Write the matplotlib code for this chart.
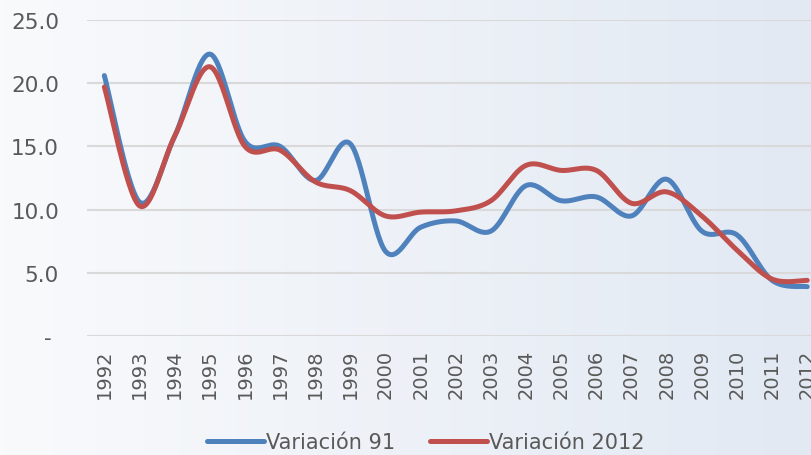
import matplotlib.pyplot as plt
import numpy as np

years = list(range(1992, 2013))
var91 = [20.6, 10.6, 15.8, 22.3, 15.4, 15.0, 12.3, 15.2, 6.7, 8.6, 9.1, 8.3,
         11.9, 10.7, 11.0, 9.5, 12.4, 8.3, 8.0, 4.4, 3.9]
var2012 = [19.7, 10.3, 15.8, 21.3, 15.0, 14.7, 12.2, 11.5, 9.5, 9.8, 9.9, 10.7,
           13.5, 13.1, 13.1, 10.5, 11.4, 9.5, 6.8, 4.5, 4.4]
ytick_vals = [0, 5, 10, 15, 20, 25]
ytick_labels = ['- ', '5.0', '10.0', '15.0', '20.0', '25.0']


def smooth(x, y, n=30):
    # Excel-style smoothed line (cubic bezier, Catmull-Rom control points)
    x = np.asarray(x, float)
    y = np.asarray(y, float)
    px = np.concatenate([[x[0]], x, [x[-1]]])
    py = np.concatenate([[y[0]], y, [y[-1]]])
    xs, ys = [], []
    t = np.linspace(0, 1, n)
    for i in range(len(x) - 1):
        p0 = np.array([px[i + 1], py[i + 1]])
        p3 = np.array([px[i + 2], py[i + 2]])
        p1 = p0 + (np.array([px[i + 2], py[i + 2]]) - np.array([px[i], py[i]])) / 6
        p2 = p3 - (np.array([px[i + 3], py[i + 3]]) - np.array([px[i + 1], py[i + 1]])) / 6
        b = ((1 - t) ** 3)[:, None] * p0 + (3 * (1 - t) ** 2 * t)[:, None] * p1 \
            + (3 * (1 - t) * t ** 2)[:, None] * p2 + (t ** 3)[:, None] * p3
        xs.extend(b[:, 0])
        ys.extend(b[:, 1])
    return np.array(xs), np.array(ys)


fig = plt.figure(figsize=(8.11, 4.56), dpi=100)

# gradient background
bg = fig.add_axes([0, 0, 1, 1], zorder=-10)
grad = np.linspace(0, 1, 256)[None, :]
c0 = np.array([249, 250, 252]) / 255
c1 = np.array([226, 233, 243]) / 255
img = c0[None, None, :] * (1 - grad[..., None]) + c1[None, None, :] * grad[..., None]
bg.imshow(img, aspect='auto', extent=[0, 1, 0, 1])
bg.axis('off')

ax = fig.add_axes([0.107, 0.261, 0.910, 0.693])
ax.patch.set_alpha(0)
idx = np.arange(len(years))
sx, sy = smooth(idx, var91)
ax.plot(sx, sy, color='#4f81bd', lw=3.6, solid_capstyle='round', label='Variación 91')
sx, sy = smooth(idx, var2012)
ax.plot(sx, sy, color='#c0504d', lw=3.6, solid_capstyle='round', label='Variación 2012')

ax.set_xlim(-0.5, len(years) - 0.5)
ax.set_ylim(0, 25)
ax.set_yticks(ytick_vals)
ax.set_yticklabels(ytick_labels)
ax.set_xticks(idx)
ax.set_xticklabels([str(y) for y in years], rotation=90)
ax.tick_params(length=0, colors='#595959')
ax.tick_params(axis='y', pad=20, labelsize=15.5)
ax.tick_params(axis='x', pad=9, labelsize=14)
ax.grid(axis='y', color='#d9d9d9', lw=1.5)
ax.set_axisbelow(True)
for s in ax.spines.values():
    s.set_visible(False)

fig.legend(loc='lower center', bbox_to_anchor=(0.525, -0.035), ncol=2, frameon=False,
           fontsize=15, handlelength=2.7, handletextpad=0.1, columnspacing=1.7,
           labelcolor='#595959')

fig.savefig('out.png', dpi=100)
